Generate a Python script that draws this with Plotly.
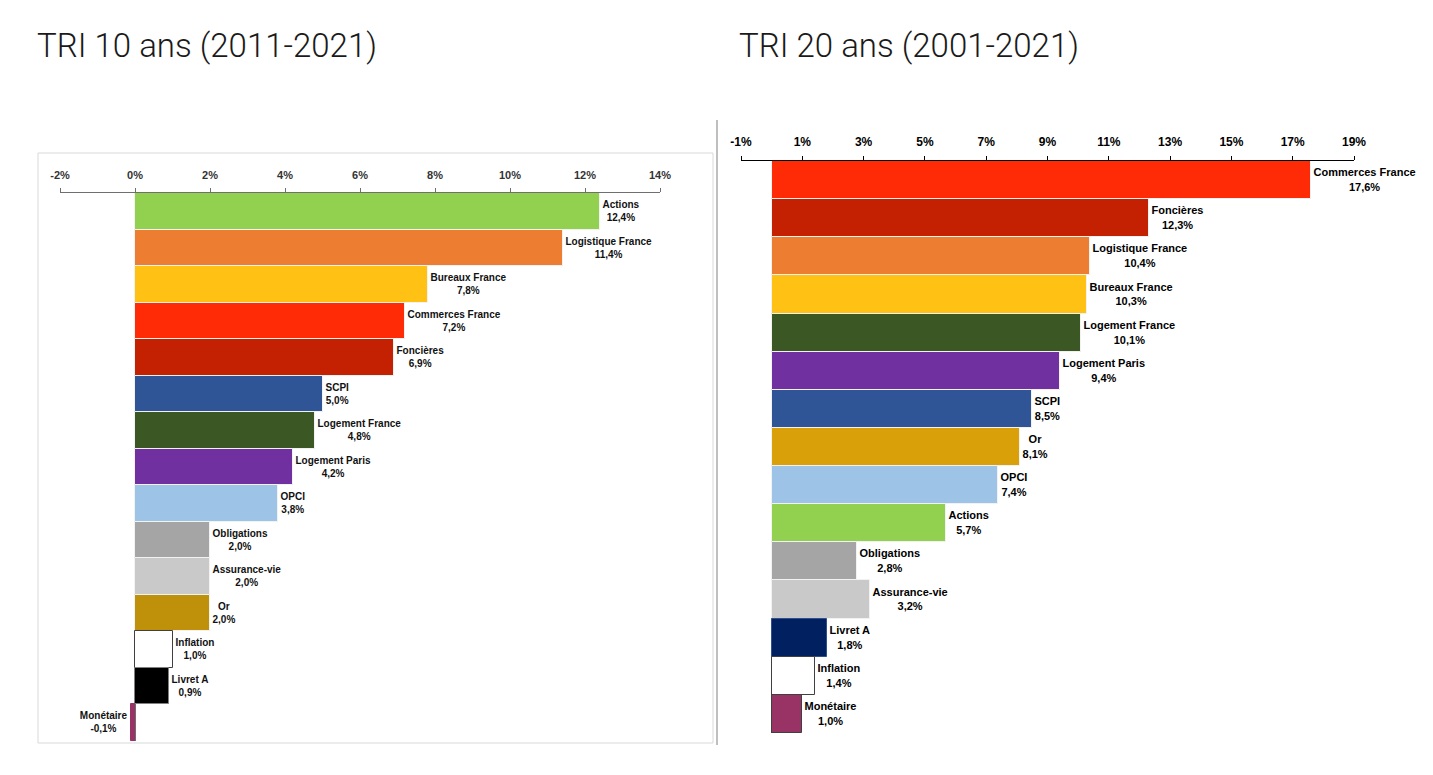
import plotly.graph_objects as go

# ---------------- data ----------------
title_left = "TRI 10 ans (2011-2021)"
title_right = "TRI 20 ans (2001-2021)"

cats_10 = ["Actions", "Logistique France", "Bureaux France", "Commerces France", "Foncières",
           "SCPI", "Logement France", "Logement Paris", "OPCI", "Obligations",
           "Assurance-vie", "Or", "Inflation", "Livret A", "Monétaire"]
vals_10 = [12.4, 11.4, 7.8, 7.2, 6.9, 5.0, 4.8, 4.2, 3.8, 2.0, 2.0, 2.0, 1.0, 0.9, -0.1]

cats_20 = ["Commerces France", "Foncières", "Logistique France", "Bureaux France", "Logement France",
           "Logement Paris", "SCPI", "Or", "OPCI", "Actions", "Obligations", "Assurance-vie",
           "Livret A", "Inflation", "Monétaire"]
vals_20 = [17.6, 12.3, 10.4, 10.3, 10.1, 9.4, 8.5, 8.1, 7.4, 5.7, 2.8, 3.2, 1.8, 1.4, 1.0]

ticks_10 = [-2, 0, 2, 4, 6, 8, 10, 12, 14]
ticks_20 = [-1, 1, 3, 5, 7, 9, 11, 13, 15, 17, 19]

# ---------------- styles ----------------
colors_10 = ["#92d050", "#ed7d31", "#ffc114", "#ff2b06", "#c32102", "#2f5597", "#3a5724",
             "#7030a0", "#9dc3e6", "#a5a5a5", "#c9c9c9", "#bf900a", "#ffffff", "#000000", "#993366"]
lines_10 = ["#f2f2f2"] * 12 + ["#404040", "#808080", "#993366"]

colors_20 = ["#ff2b06", "#c32102", "#ed7d31", "#ffc114", "#3a5724", "#7030a0", "#2f5597",
             "#daa00a", "#9dc3e6", "#92d050", "#a5a5a5", "#c9c9c9", "#002060", "#ffffff", "#993366"]
lines_20 = ["#f2f2f2"] * 12 + ["#2f4f8f", "#404040", "#404040"]

# page body has an 8px margin; keep the figure inside the window
PAD = 8
W, H = 1433 - 2 * PAD, 775 - 2 * PAD
def fx(p):
    return (p - PAD) / W
def fy(p):
    return 1 - (p - PAD) / H

LABEL_FONT = "Liberation Sans Narrow, Arial Narrow, Liberation Sans, Arial, sans-serif"

def fmt(name, v):
    return f"<b>{name}<br>{v:.1f}%</b>".replace(".", ",")

fig = go.Figure()

fig.add_trace(go.Bar(
    x=vals_10, y=cats_10, orientation="h",
    marker=dict(color=colors_10, line=dict(color=lines_10, width=1)),
    text=[fmt(c, v) for c, v in zip(cats_10, vals_10)],
    textposition="outside", cliponaxis=False, constraintext="none",
    textfont=dict(family=LABEL_FONT, size=10, color="#111111"),
    xaxis="x", yaxis="y", showlegend=False, hoverinfo="skip",
))

fig.add_trace(go.Bar(
    x=vals_20, y=cats_20, orientation="h",
    marker=dict(color=colors_20, line=dict(color=lines_20, width=1)),
    text=[fmt(c, v) for c, v in zip(cats_20, vals_20)],
    textposition="outside", cliponaxis=False, constraintext="none",
    textfont=dict(family=LABEL_FONT, size=11, color="#000000"),
    xaxis="x2", yaxis="y2", showlegend=False, hoverinfo="skip",
))

fig.update_layout(
    width=W, height=H, autosize=False,
    margin=dict(l=0, r=0, t=0, b=0, pad=0, autoexpand=False),
    paper_bgcolor="white", plot_bgcolor="rgba(0,0,0,0)",
    bargap=0,
    xaxis=dict(
        domain=[fx(60), fx(660)], range=[-2, 14], side="top", anchor="y",
        tickvals=ticks_10, ticktext=[f"<b>{t}%</b>" for t in ticks_10],
        showgrid=False, showline=True, linecolor="#6f6f6f", linewidth=1,
        ticks="outside", ticklen=4, tickcolor="#6f6f6f", ticklabelstandoff=5,
        zeroline=True, zerolinecolor="#6f6f6f", zerolinewidth=2,
        tickfont=dict(family=LABEL_FONT, size=11, color="#333333"),
        fixedrange=True,
    ),
    yaxis=dict(
        domain=[fy(741), fy(193)], anchor="x",
        categoryorder="array", categoryarray=cats_10, range=[14.5, -0.5],
        showticklabels=False, showgrid=False, showline=False, zeroline=False,
        ticks="", fixedrange=True,
    ),
    xaxis2=dict(
        domain=[fx(741), fx(1354)], range=[-1, 19], side="top", anchor="y2",
        tickvals=ticks_20, ticktext=[f"<b>{t}%</b>" for t in ticks_20],
        showgrid=False, showline=True, linecolor="#000000", linewidth=1,
        ticks="outside", ticklen=4, tickcolor="#000000", ticklabelstandoff=5,
        zeroline=True, zerolinecolor="#4a3a3a", zerolinewidth=2,
        tickfont=dict(family=LABEL_FONT, size=12, color="#000000"),
        fixedrange=True,
    ),
    yaxis2=dict(
        domain=[fy(733), fy(161)], anchor="x2",
        categoryorder="array", categoryarray=cats_20, range=[14.5, -0.5],
        showticklabels=False, showgrid=False, showline=False, zeroline=False,
        ticks="", fixedrange=True,
    ),
    shapes=[
        dict(type="rect", xref="paper", yref="paper",
             x0=fx(38), x1=fx(713), y0=fy(743), y1=fy(153),
             line=dict(color="#d9d9d9", width=1), layer="below"),
        dict(type="line", xref="paper", yref="paper",
             x0=fx(717), x1=fx(717), y0=fy(745), y1=fy(120),
             line=dict(color="#bfbfbf", width=2), layer="below"),
    ],
    annotations=[
        dict(text=title_left, xref="paper", yref="paper", x=fx(35), y=fy(45),
             xanchor="left", yanchor="middle", showarrow=False,
             font=dict(family="Roboto, Open Sans, sans-serif", size=33, color="#1a1a1a", weight=300)),
        dict(text=title_right, xref="paper", yref="paper", x=fx(737), y=fy(45),
             xanchor="left", yanchor="middle", showarrow=False,
             font=dict(family="Roboto, Open Sans, sans-serif", size=33, color="#1a1a1a", weight=300)),
    ],
)

fig.write_html("out.html", config={"responsive": False})
